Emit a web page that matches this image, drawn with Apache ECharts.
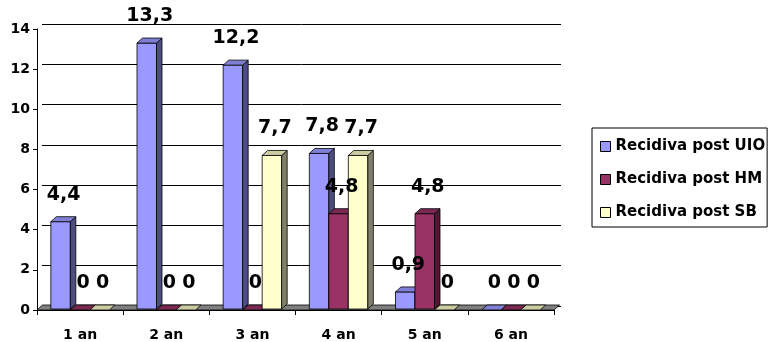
<!DOCTYPE html>
<html><head><meta charset="utf-8">
<script src="https://cdn.jsdelivr.net/npm/echarts@6/dist/echarts.min.js"></script>
<style>html,body{margin:0;padding:0;background:#fff}#c{width:768px;height:342px}</style>
</head><body><div id="c"></div>
<script>
const categories = ['1 an', '2 an', '3 an', '4 an', '5 an', '6 an'];
const seriesNames = ['Recidiva post UIO', 'Recidiva post HM', 'Recidiva post SB'];
const valuesUIO = [4.4, 13.3, 12.2, 7.8, 0.9, 0];
const valuesHM = [0, 0, 0, 4.8, 4.8, 0];
const valuesSB = [0, 0, 7.7, 7.7, 0, 0];
const yTicks = [0, 2, 4, 6, 8, 10, 12, 14];

const allValues = [valuesUIO, valuesHM, valuesSB];
const frontColors = ['#9999ff', '#993366', '#ffffcc'];
const sideColors = ['#4d4d80', '#4d1a33', '#80806a'];
const topColors = ['#7f7fd4', '#7a2952', '#cccca3'];

const FONT = '"DejaVu Sans"';
const DX = 5.5, DY = -5, BW = 19.5;

function fmt(v) { return String(v).replace('.', ','); }

function makeRender(k) {
  return function (params, api) {
    const idx = api.value(0), v = api.value(1);
    const topP = api.coord([idx, v]);
    const baseP = api.coord([idx, 0]);
    const x0 = baseP[0] - 1.5 * BW + k * BW;
    const yt = topP[1], yb = baseP[1] - 1;
    const stroke = '#000';
    const children = [];
    if (yb - yt > 0.5) {
      children.push({ type: 'rect', shape: { x: x0, y: yt, width: BW, height: yb - yt },
        style: { fill: frontColors[k], stroke: stroke, lineWidth: 0.8 } });
      children.push({ type: 'polygon', shape: { points: [[x0 + BW, yt], [x0 + BW + DX, yt + DY], [x0 + BW + DX, yb + DY], [x0 + BW, yb]] },
        style: { fill: sideColors[k], stroke: stroke, lineWidth: 0.8 } });
    }
    children.push({ type: 'polygon', shape: { points: [[x0, yt], [x0 + DX, yt + DY], [x0 + BW + DX, yt + DY], [x0 + BW, yt]] },
      style: { fill: topColors[k], stroke: stroke, lineWidth: 0.8 } });
    children.push({ type: 'text', x: x0 + BW / 2 + 3, y: yt - 27,
      style: { text: fmt(v), font: 'bold 19px ' + FONT, fill: '#000', align: 'center', verticalAlign: 'middle' }, z2: 10 });
    return { type: 'group', children: children };
  };
}

function renderFloor(params, api) {
  const c0 = api.coord([0, 0]);
  const cN = api.coord([categories.length - 1, 0]);
  const w = api.size([1, 0])[0];
  const xL = c0[0] - w / 2, xR = cN[0] + w / 2;
  const y = c0[1];
  return { type: 'polygon', shape: { points: [[xL, y], [xL + DX, y + DY], [xR + DX, y + DY], [xR, y]] },
    style: { fill: '#808080', stroke: '#000', lineWidth: 0.8 } };
}

const chart = echarts.init(document.getElementById('c'), null, { renderer: 'canvas' });
const series = [];
series.push({ type: 'custom', name: 'floor', xAxisIndex: 0, yAxisIndex: 0, data: [[0, 0]], renderItem: renderFloor, clip: false, z: 1, silent: true });
allValues.forEach((vals, k) => {
  series.push({ type: 'custom', name: seriesNames[k], xAxisIndex: 0, yAxisIndex: 0,
    data: vals.map((v, i) => [i, v]), encode: { x: 0, y: 1 },
    itemStyle: { color: frontColors[k] }, renderItem: makeRender(k), clip: false, z: 3 });
});

chart.setOption({
  animation: false,
  backgroundColor: '#fff',
  grid: [
    { left: 37, right: 214, top: 29, bottom: 31 },
    { left: 42, right: 207, top: 24, bottom: 36 }
  ],
  xAxis: [
    { type: 'category', gridIndex: 0, data: categories,
      axisLine: { show: true, lineStyle: { color: '#000', width: 1 } },
      axisTick: { show: true, length: 5, lineStyle: { color: '#000' } },
      axisLabel: { margin: 18, color: '#000', fontFamily: FONT, fontWeight: 'bold', fontSize: 14 } },
    { type: 'category', gridIndex: 1, data: categories, show: false }
  ],
  yAxis: [
    { type: 'value', gridIndex: 0, min: 0, max: 14, interval: 2,
      axisLine: { show: true, lineStyle: { color: '#000', width: 1 } },
      axisTick: { show: true, length: 4, lineStyle: { color: '#000' } },
      splitLine: { show: false },
      axisLabel: { margin: 7, color: '#000', fontFamily: FONT, fontWeight: 'bold', fontSize: 14,
        formatter: v => (yTicks.indexOf(v) >= 0 ? String(v) : '') } },
    { type: 'value', gridIndex: 1, min: 0, max: 14, interval: 2,
      axisLine: { show: false }, axisTick: { show: false }, axisLabel: { show: false },
      splitLine: { show: true, lineStyle: { color: '#000', width: 1 } } }
  ],
  legend: {
    data: seriesNames, orient: 'vertical', left: 592, top: 128,
    borderColor: '#000', borderWidth: 1, padding: [11, 2, 7, 8],
    itemWidth: 10, itemHeight: 10, itemGap: 18, itemTextGap: 7, icon: 'rect',
    itemStyle: { borderColor: '#000', borderWidth: 1 },
    textStyle: { color: '#000', fontFamily: FONT, fontWeight: 'bold', fontSize: 15 }
  },
  series: series
});
</script></body></html>
